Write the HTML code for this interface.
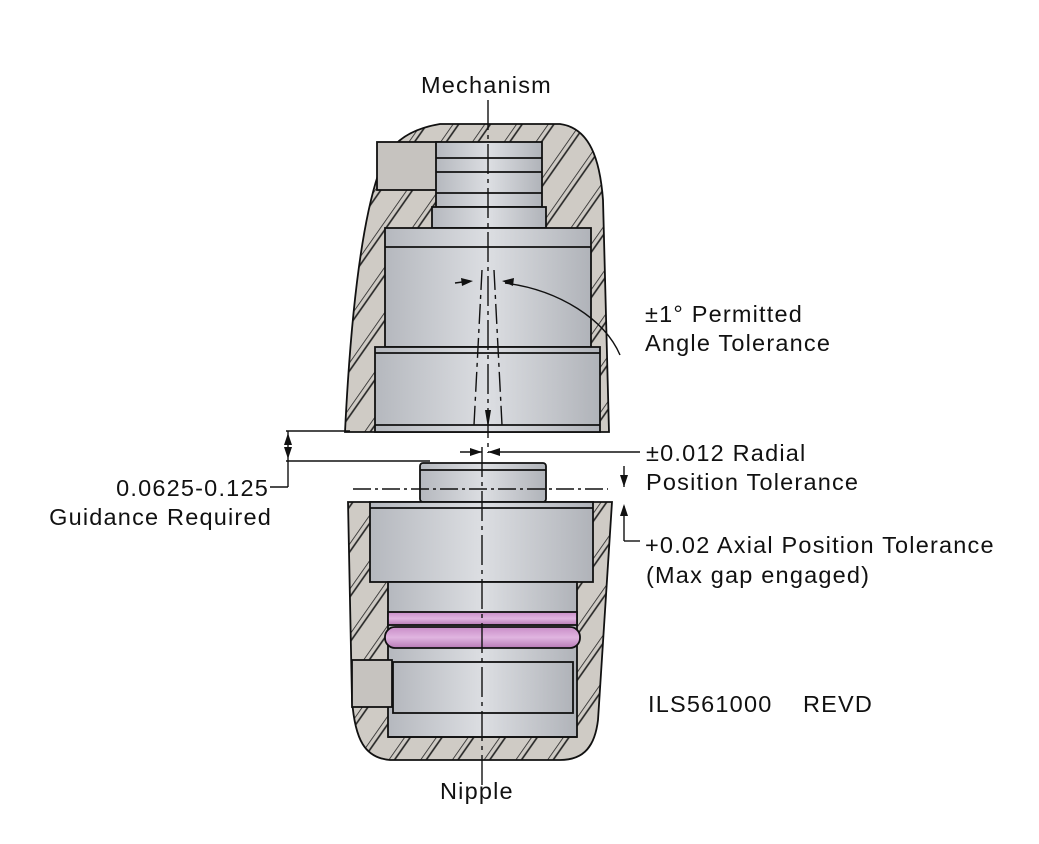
<!DOCTYPE html>
<html><head><meta charset="utf-8"><style>
html,body{margin:0;padding:0;background:#fff;}
svg{display:block}
text{font-family:"Liberation Sans",sans-serif;font-size:23.5px;letter-spacing:1.2px;fill:#111}
</style></head><body>
<svg width="1039" height="844" viewBox="0 0 1039 844" xmlns="http://www.w3.org/2000/svg">
<defs>
<pattern id="hat" patternUnits="userSpaceOnUse" width="26" height="26" patternTransform="rotate(35)">
<rect width="26" height="26" fill="#cfcbc5"/>
<line x1="0" y1="0" x2="0" y2="26" stroke="#222" stroke-width="1.6"/>
<line x1="5" y1="0" x2="5" y2="26" stroke="#222" stroke-width="1.6"/>
</pattern>
<linearGradient id="met" x1="0" x2="1" y1="0" y2="0">
<stop offset="0" stop-color="#b5b8be"/><stop offset="0.5" stop-color="#dcdee2"/><stop offset="1" stop-color="#b0b3b9"/>
</linearGradient>
<linearGradient id="pink" x1="0" x2="0" y1="0" y2="1">
<stop offset="0" stop-color="#c98cc8"/><stop offset="0.5" stop-color="#e0b5e0"/><stop offset="1" stop-color="#b77ab6"/>
</linearGradient>
</defs>
<g stroke="#111" stroke-width="1.8">
<path d="M345,432 C350,330 360,230 378,175 C388,145 405,130 440,124 L560,124 C590,128 600,160 603,200 L609,432 Z" fill="url(#hat)"/>
<rect x="377" y="142" width="63" height="48" fill="#c6c3bf"/>
<rect x="436" y="142" width="106" height="86" fill="url(#met)"/>
<line x1="436" y1="158" x2="542" y2="158"/><line x1="436" y1="172" x2="542" y2="172"/>
<line x1="436" y1="193" x2="542" y2="193"/><line x1="436" y1="207" x2="542" y2="207"/>
<rect x="432" y="207" width="114" height="21" fill="url(#met)"/>
<rect x="385" y="228" width="206" height="119" fill="url(#met)"/>
<line x1="385" y1="247" x2="591" y2="247"/>
<rect x="375" y="347" width="225" height="85" fill="url(#met)"/>
<line x1="375" y1="353" x2="600" y2="353"/>
<line x1="375" y1="425" x2="600" y2="425"/>
<path d="M348,502 L612,502 L598,720 C595,745 585,760 560,760 L390,760 C365,758 355,740 352,700 Z" fill="url(#hat)"/>
<rect x="420" y="463" width="126" height="39" rx="3" fill="url(#met)"/>
<line x1="420" y1="470" x2="546" y2="470"/>
<rect x="370" y="502" width="223" height="80" fill="url(#met)"/>
<line x1="370" y1="508" x2="593" y2="508"/>
<rect x="388" y="582" width="189" height="155" fill="url(#met)"/>
<rect x="388" y="612" width="189" height="13" fill="url(#pink)"/>
<rect x="385" y="627" width="195" height="21" rx="10" fill="url(#pink)"/>
<rect x="393" y="662" width="180" height="51" fill="url(#met)"/>
<line x1="388" y1="737" x2="577" y2="737"/>
<rect x="352" y="660" width="40" height="47" fill="#c6c3bf"/>
</g>
<g stroke="#111" stroke-width="1.4" fill="none">
<line x1="488" y1="100" x2="488" y2="453" stroke-dasharray="30,5,4,5"/>
<line x1="482" y1="447" x2="482" y2="790" stroke-dasharray="30,5,4,5"/>
<line x1="353" y1="489" x2="608" y2="489" stroke-dasharray="18,4,3,4"/>
<line x1="482" y1="270" x2="474" y2="425" stroke-dasharray="20,5,4,5"/>
<line x1="494" y1="270" x2="502" y2="425" stroke-dasharray="20,5,4,5"/>
<path d="M505,283 C560,290 605,320 620,355"/>
<line x1="455" y1="283" x2="470" y2="281"/>
<line x1="286" y1="431" x2="350" y2="431"/>
<line x1="286" y1="461" x2="430" y2="461"/>
<line x1="288" y1="431" x2="288" y2="487"/>
<line x1="288" y1="487" x2="270" y2="487"/>
<line x1="460" y1="452" x2="482" y2="452"/>
<line x1="488" y1="452" x2="640" y2="452"/>
<line x1="624" y1="466" x2="624" y2="487"/>
<line x1="624" y1="506" x2="624" y2="541"/>
<line x1="624" y1="541" x2="640" y2="541"/>
</g>
<g fill="#111">
<path d="M288,433 l-4,12 h8z"/><path d="M288,459 l-4,-12 h8z"/>
<path d="M482,452 l-12,-4 v8z"/><path d="M488,452 l12,-4 v8z"/>
<path d="M624,487 l-4,-12 h8z"/><path d="M624,504 l-4,12 h8z"/>
<path d="M473,281 l-12,-3 l1,8z"/><path d="M502,281 l12,-3 l-1,8z"/>
<path d="M488,428 l-3,-18 h6z"/>
</g>
<text x="421" y="93">Mechanism</text>
<text x="645" y="322">±1° Permitted</text>
<text x="645" y="351">Angle Tolerance</text>
<text x="646" y="461">±0.012 Radial</text>
<text x="646" y="490">Position Tolerance</text>
<text x="269" y="496" text-anchor="end">0.0625-0.125</text>
<text x="272" y="525" text-anchor="end">Guidance Required</text>
<text x="645" y="553">+0.02 Axial Position Tolerance</text>
<text x="646" y="583">(Max gap engaged)</text>
<text x="648" y="712">ILS561000</text>
<text x="803" y="712">REVD</text>
<text x="440" y="799">Nipple</text>
</svg>
</body></html>
